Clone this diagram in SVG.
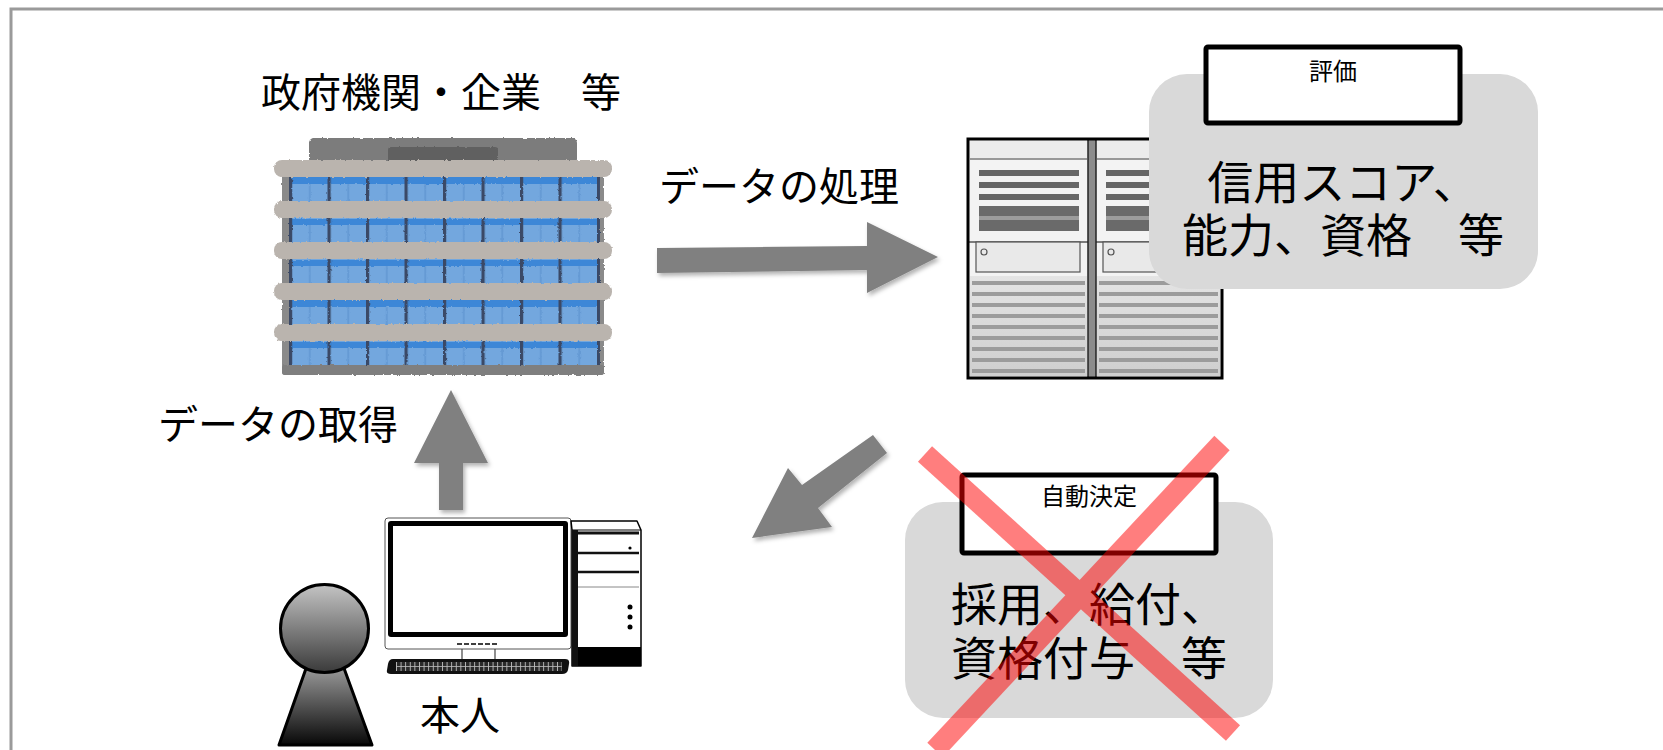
<svg xmlns="http://www.w3.org/2000/svg" width="1663" height="750" viewBox="0 0 1663 750">
  <style>
    text { font-family: "Noto Sans CJK JP", "Noto Sans", sans-serif; fill: #000; }
    .lbl { font-size: 40px; }
    .big { font-size: 46px; text-anchor: middle; }
    .tag { font-size: 24px; text-anchor: middle; }
    .arrow { fill: #808080; filter: url(#shadow); }
    .panel { fill: #d9d9d9; }
    .tagbox { fill: #fff; stroke: #000; stroke-width: 5; }
    .beam { fill: #bab4ae; }
    .louver { stroke: #9c9c9c; stroke-width: 4; }
  </style>
  <defs>
    <filter id="shadow" x="-20%" y="-20%" width="140%" height="140%">
      <feDropShadow dx="2" dy="3" stdDeviation="2" flood-color="#000" flood-opacity="0.3"/>
    </filter>
    <filter id="rough" x="-5%" y="-5%" width="110%" height="110%">
      <feTurbulence type="fractalNoise" baseFrequency="0.35" numOctaves="2" seed="3" result="n"/>
      <feDisplacementMap in="SourceGraphic" in2="n" scale="2.5" xChannelSelector="R" yChannelSelector="G"/>
    </filter>
    <filter id="soft"><feGaussianBlur stdDeviation="0.6"/></filter>
    <pattern id="windows" patternUnits="userSpaceOnUse" x="289" y="177" width="38.5" height="41">
      <rect x="0" y="0" width="38.5" height="41" fill="#73a7de"/>
      <rect x="0" y="0" width="38.5" height="7" fill="#3e87d7"/>
      <rect x="20" y="7" width="1.5" height="34" fill="#6197d2"/>
      <rect x="0" y="0" width="3.2" height="41" fill="#3a4a66"/>
    </pattern>
    <pattern id="keys" patternUnits="userSpaceOnUse" x="396" y="662" width="4.6" height="9">
      <rect width="4.6" height="9" fill="#2a2a2a"/>
      <rect x="0" y="0" width="0.9" height="9" fill="#bdbdbd"/>
      <rect x="0" y="4" width="4.6" height="0.8" fill="#bdbdbd"/>
    </pattern>
    <linearGradient id="headFill" x1="0" y1="0" x2="0" y2="1">
      <stop offset="0" stop-color="#c4c4c4"/>
      <stop offset="1" stop-color="#3a3a3a"/>
    </linearGradient>
    <linearGradient id="bodyFill" x1="0" y1="0" x2="0" y2="1">
      <stop offset="0" stop-color="#a8a8a8"/>
      <stop offset="1" stop-color="#080808"/>
    </linearGradient>
    <linearGradient id="louverFill" x1="0" y1="0" x2="0" y2="1">
      <stop offset="0" stop-color="#e4e4e4"/>
      <stop offset="1" stop-color="#cfcfcf"/>
    </linearGradient>
  </defs>

  <rect width="1663" height="750" fill="#fff"/>
  <!-- outer frame: top and left edges only -->
  <path d="M11,750 L11,9 L1663,9" fill="none" stroke="#9a9a9a" stroke-width="3"/>

  <!-- organisation building -->
  <g id="organisation">
    <text class="lbl" x="441" y="107" text-anchor="middle">政府機関・企業　等</text>
    <g filter="url(#rough)">
      <rect x="309" y="138" width="268" height="26" rx="5" fill="#7b7b7b"/>
      <rect x="388" y="147" width="110" height="15" rx="3" fill="#616161"/>
      <rect x="282" y="165" width="322" height="210" rx="3" fill="#8a8a8a"/>
      <rect x="289" y="177" width="311" height="188" fill="url(#windows)"/>
      <rect x="282" y="365" width="322" height="10" rx="3" fill="#7f7f7f"/>
      <rect class="beam" x="274" y="160" width="338" height="17" rx="8"/>
      <rect class="beam" x="274" y="201" width="338" height="17" rx="8"/>
      <rect class="beam" x="274" y="242" width="338" height="17" rx="8"/>
      <rect class="beam" x="274" y="283" width="338" height="17" rx="8"/>
      <rect class="beam" x="274" y="324" width="338" height="17" rx="8"/>
    </g>
  </g>

  <!-- server racks -->
  <g id="server">
    <g filter="url(#soft)">
      <rect x="968" y="139" width="254" height="239" fill="#f3f3f3"/>
      <!-- left cabinet -->
      <rect x="970" y="141" width="117" height="17" fill="#ececec"/>
      <line x1="970" y1="159" x2="1087" y2="159" stroke="#7a7a7a" stroke-width="1.5"/>
      <rect x="979" y="170" width="100" height="6" fill="#666"/>
      <rect x="979" y="182" width="100" height="6" fill="#666"/>
      <rect x="979" y="194" width="100" height="6" fill="#666"/>
      <rect x="979" y="206" width="100" height="25" fill="#6a6a6a"/>
      <rect x="979" y="216" width="100" height="4" fill="#9c9c9c"/>
      <line x1="968" y1="242" x2="1088" y2="242" stroke="#555" stroke-width="1.5"/>
      <rect x="976" y="242" width="104" height="30" fill="#e9e9e9" stroke="#555" stroke-width="1.2"/>
      <circle cx="984" cy="252" r="3" fill="none" stroke="#555" stroke-width="1.2"/>
      <rect x="970" y="276" width="117" height="100" fill="url(#louverFill)"/>
      <path class="louver" d="M972,283 H1085 M972,294 H1085 M972,305 H1085 M972,316 H1085 M972,327 H1085 M972,338 H1085 M972,349 H1085 M972,360 H1085 M972,371 H1085"/>
      <!-- right cabinet -->
      <rect x="1097" y="141" width="123" height="17" fill="#ececec"/>
      <line x1="1097" y1="159" x2="1220" y2="159" stroke="#7a7a7a" stroke-width="1.5"/>
      <rect x="1106" y="170" width="106" height="6" fill="#666"/>
      <rect x="1106" y="182" width="106" height="6" fill="#666"/>
      <rect x="1106" y="194" width="106" height="6" fill="#666"/>
      <rect x="1106" y="206" width="106" height="25" fill="#6a6a6a"/>
      <rect x="1106" y="216" width="106" height="4" fill="#9c9c9c"/>
      <line x1="1096" y1="242" x2="1222" y2="242" stroke="#555" stroke-width="1.5"/>
      <rect x="1103" y="242" width="110" height="30" fill="#e9e9e9" stroke="#555" stroke-width="1.2"/>
      <circle cx="1111" cy="252" r="3" fill="none" stroke="#555" stroke-width="1.2"/>
      <rect x="1097" y="276" width="123" height="100" fill="url(#louverFill)"/>
      <path class="louver" d="M1099,283 H1218 M1099,294 H1218 M1099,305 H1218 M1099,316 H1218 M1099,327 H1218 M1099,338 H1218 M1099,349 H1218 M1099,360 H1218 M1099,371 H1218"/>
      <!-- centre divider -->
      <rect x="1088" y="139" width="8" height="239" fill="#8c8c8c"/>
      <line x1="1088" y1="139" x2="1088" y2="378" stroke="#222" stroke-width="1.5"/>
      <line x1="1096" y1="139" x2="1096" y2="378" stroke="#222" stroke-width="1.5"/>
      <rect x="968" y="139" width="254" height="239" fill="none" stroke="#000" stroke-width="3"/>
    </g>
  </g>

  <!-- evaluation result -->
  <g id="evaluation">
    <rect class="panel" x="1149" y="74" width="389" height="215" rx="38"/>
    <rect class="tagbox" x="1206" y="47" width="254" height="76" rx="2"/>
    <text class="tag" x="1333" y="80">評価</text>
    <text class="big" x="1343" y="199">信用スコア、<tspan x="1343" dy="53">能力、資格　等</tspan></text>
  </g>

  <!-- automated decision, crossed out -->
  <g id="decision">
    <rect class="panel" x="905" y="502" width="368" height="216" rx="38"/>
    <rect class="tagbox" x="962" y="475" width="254" height="78" rx="2"/>
    <text class="tag" x="1089" y="505">自動決定</text>
    <text class="big" x="1089" y="621">採用、給付、<tspan x="1089" dy="54">資格付与　等</tspan></text>
    <g opacity="0.5" stroke="#ff0000" stroke-width="21">
      <line x1="925" y1="454" x2="1233" y2="733"/>
      <line x1="1222" y1="443" x2="935" y2="750"/>
    </g>
  </g>

  <!-- the data subject and their computer -->
  <g id="person">
    <path d="M309,660 L341,660 L372,745 L279,745 Z" fill="url(#bodyFill)" stroke="#000" stroke-width="3" stroke-linejoin="round"/>
    <circle cx="324.5" cy="628.5" r="44" fill="url(#headFill)" stroke="#000" stroke-width="3"/>
    <!-- monitor -->
    <rect x="385" y="518" width="186" height="131" rx="3" fill="#fff" stroke="#555" stroke-width="1"/>
    <rect x="388" y="521" width="180" height="116" rx="3" fill="#000"/>
    <rect x="393" y="526" width="170" height="106" fill="#fff"/>
    <line x1="457" y1="644" x2="499" y2="644" stroke="#000" stroke-width="1.5" stroke-dasharray="5 2"/>
    <line x1="462" y1="649" x2="462" y2="660" stroke="#444" stroke-width="1.2"/>
    <line x1="495" y1="649" x2="495" y2="660" stroke="#444" stroke-width="1.2"/>
    <!-- keyboard -->
    <path d="M393,659 L565,659 Q570,659 569,664 L568,670 Q567,674 562,674 L391,674 Q386,674 387,670 L388,664 Q389,659 393,659 Z" fill="#111"/>
    <rect x="396" y="662" width="166" height="9" fill="url(#keys)"/>
    <!-- tower -->
    <path d="M571,521 L637,521 L641,530 L641,666 L572,666 L572,530 Z" fill="#fff" stroke="#000" stroke-width="1.5" stroke-linejoin="round"/>
    <line x1="572" y1="530" x2="641" y2="530" stroke="#000" stroke-width="1.2"/>
    <rect x="572" y="530" width="6" height="136" fill="#111"/>
    <line x1="578" y1="533" x2="639" y2="533" stroke="#111" stroke-width="3"/>
    <line x1="578" y1="553" x2="639" y2="553" stroke="#111" stroke-width="2.5"/>
    <line x1="578" y1="572" x2="639" y2="572" stroke="#111" stroke-width="2.5"/>
    <line x1="578" y1="587" x2="639" y2="587" stroke="#888" stroke-width="1"/>
    <circle cx="630" cy="548" r="1.6" fill="#000"/>
    <circle cx="630" cy="607" r="2.5" fill="#000"/>
    <circle cx="630" cy="617" r="2.5" fill="#000"/>
    <circle cx="630" cy="627" r="2.5" fill="#000"/>
    <rect x="578" y="647" width="63" height="19" fill="#000"/>
    <text class="lbl" x="420" y="730">本人</text>
  </g>

  <!-- data flow arrows -->
  <g id="connectors">
    <polygon class="arrow" points="657,248 867,246 867,222 938,257 867,293 867,270 657,273"/>
    <text class="lbl" x="659" y="201">データの処理</text>
    <polygon class="arrow" points="439,510 439,463 414,463 451,390 488,463 463,463 463,510"/>
    <text class="lbl" x="158" y="439">データの取得</text>
    <polygon class="arrow" points="752,538 788,468 802,485 873,435 887,453 818,508 832,527"/>
  </g>
</svg>
